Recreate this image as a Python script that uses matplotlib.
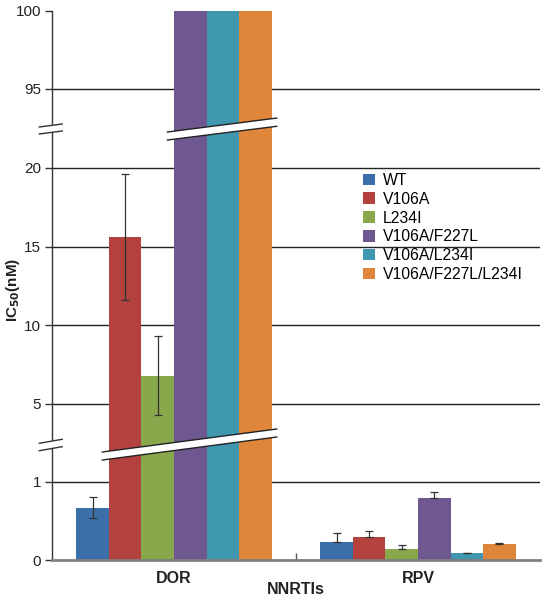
import numpy as np
import matplotlib
matplotlib.use('Agg')
import matplotlib.pyplot as plt
from matplotlib.patches import Polygon, Patch

plt.rcParams['font.family'] = ['Liberation Sans', 'DejaVu Sans']

# data
drugs = ['DOR', 'RPV']
variants = ['WT', 'V106A', 'L234I', 'V106A/F227L', 'V106A/L234I', 'V106A/F227L/L234I']
colors = ['#3b6fa9', '#b3413e', '#88a84b', '#6f5890', '#3f98b0', '#e0863a']
dor_vals = [0.67, 15.6, 6.8, 100, 100, 100]
dor_err = [0.135, 4.0, 2.5, 0, 0, 0]
rpv_vals = [0.235, 0.29, 0.137, 0.80, 0.086, 0.20]
rpv_err = [0.105, 0.086, 0.053, 0.076, 0.008, 0.014]
grid_vals = [1, 5, 10, 15, 20, 95]
yticks = [0, 1, 5, 10, 15, 20, 95, 100]

# broken axis as a piecewise scale
seg_data = [0, 1.474, 2.39, 22.54, 92.5, 100]
seg_vis = [0, 115, 115.01, 432, 432.01, 549]

def fwd(v):
    return np.interp(v, seg_data, seg_vis)

def inv(p):
    return np.interp(p, seg_vis, seg_data)

fig = plt.figure(figsize=(5.46, 6.0), dpi=100)
ax = fig.add_axes([52/546, 40/600, 488/546, 549/600])
ax.set_yscale('function', functions=(fwd, inv))
ax.set_ylim(0, 100)
ax.set_xlim(-0.5, 1.5)

for g in grid_vals:
    ax.axhline(g, color='#222222', lw=1, zorder=1)

w = 0.8 / 6
x = np.arange(len(drugs))
for i, v in enumerate(variants):
    vals = [dor_vals[i], rpv_vals[i]]
    pos = x - 0.4 + w * (i + 0.5)
    ax.bar(pos, vals, width=w, color=colors[i], zorder=2, label=v)
    # DOR error bars both ways, RPV only upward
    if dor_err[i] > 0:
        ax.errorbar(pos[0], dor_vals[i], yerr=dor_err[i], color='#333333',
                    lw=0.9, capsize=3, capthick=0.9, zorder=3)
    ax.errorbar(pos[1], rpv_vals[i], yerr=[[0], [rpv_err[i]]], color='#333333',
                lw=0.9, capsize=3, capthick=0.9, zorder=3)

# white break bands across the tall bars
tr = ax.get_xaxis_transform()
bands = [
    [(-0.294, 0.1821), (0.421, 0.2240), (0.421, 0.2386), (-0.294, 0.1967)],
    [(-0.027, 0.7650), (0.421, 0.7900), (0.421, 0.8050), (-0.027, 0.7796)],
]
for b in bands:
    ax.add_patch(Polygon(b, closed=True, facecolor='white', edgecolor='none',
                         transform=tr, zorder=4))
    ax.plot([b[0][0], b[1][0]], [b[0][1], b[1][1]], color='#222222', lw=1, transform=tr, zorder=5)
    ax.plot([b[3][0], b[2][0]], [b[3][1], b[2][1]], color='#222222', lw=1, transform=tr, zorder=5)

# break marks on the y axis
marks = [
    [(-0.552, 0.7760), (-0.458, 0.7814), (-0.458, 0.7942), (-0.552, 0.7887)],
    [(-0.552, 0.1991), (-0.458, 0.2064), (-0.458, 0.2199), (-0.552, 0.2126)],
]
for m in marks:
    ax.add_patch(Polygon(m, closed=True, facecolor='white', edgecolor='none',
                         transform=tr, zorder=6, clip_on=False))
    ax.plot([m[0][0], m[1][0]], [m[0][1], m[1][1]], color='#333333', lw=1,
            transform=tr, zorder=7, clip_on=False)
    ax.plot([m[3][0], m[2][0]], [m[3][1], m[2][1]], color='#333333', lw=1,
            transform=tr, zorder=7, clip_on=False)

ax.spines['top'].set_visible(False)
ax.spines['right'].set_visible(False)
ax.spines['left'].set_color('#333333')
ax.spines['left'].set_linewidth(1)
ax.spines['bottom'].set_color('#808080')
ax.spines['bottom'].set_linewidth(2)
ax.spines['bottom'].set_zorder(3)

ax.set_yticks(yticks)
ax.set_yticklabels([str(t) for t in yticks])
ax.yaxis.set_minor_locator(matplotlib.ticker.NullLocator())
ax.tick_params(axis='y', length=5, width=1, color='#333333', labelsize=11,
               labelcolor='#222222', pad=3)

ax.set_xticks(x)
ax.set_xticklabels(drugs, fontweight='bold', fontsize=11.5)
ax.set_xticks([0.5], minor=True)
ax.tick_params(axis='x', which='major', length=0, pad=8, labelcolor='#222222')
ax.tick_params(axis='x', which='minor', direction='in', length=5, width=1, color='#555555')
ax.set_xlabel('NNRTIs', fontweight='bold', fontsize=11.5, labelpad=-3, color='#222222')

ax.set_ylabel('IC$_{\\mathbf{50}}$(nM)', fontweight='bold', fontsize=11, color='#222222')
ax.yaxis.set_label_coords(-0.062, 0.492)

handles = [Patch(facecolor=c, edgecolor='none') for c in colors]
ax.legend(handles, variants, loc='upper left', bbox_to_anchor=(363/546, 1 - 173/600),
          bbox_transform=fig.transFigure, frameon=False, fontsize=11.3,
          handlelength=0.76, handleheight=0.76, handletextpad=0.51,
          labelspacing=0.24, borderpad=0, borderaxespad=0)

fig.savefig('out.png', dpi=100)
